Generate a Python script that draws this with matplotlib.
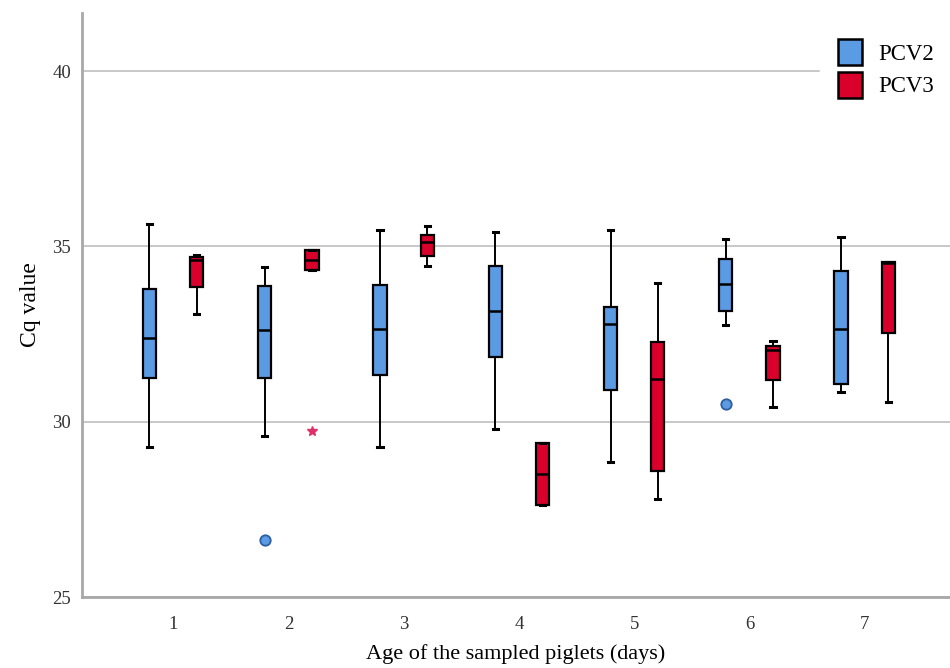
import matplotlib.pyplot as plt
from matplotlib.patches import Patch

# dados (Cq por idade)
days = [1, 2, 3, 4, 5, 6, 7]

pcv2_whislo = [29.27, 29.58, 29.29, 29.78, 28.84, 32.76, 30.84]
pcv2_q1 = [31.24, 31.26, 31.34, 31.85, 30.91, 33.15, 31.08]
pcv2_med = [32.39, 32.62, 32.65, 33.17, 32.79, 33.93, 32.65]
pcv2_q3 = [33.79, 33.87, 33.89, 34.44, 33.27, 34.65, 34.31]
pcv2_whishi = [35.64, 34.40, 35.47, 35.41, 35.46, 35.22, 35.27]
pcv2_fliers = [[], [26.62], [], [], [], [30.51], []]

pcv3_whislo = [33.06, 34.32, 34.43, 27.63, 27.79, 30.43, 30.57]
pcv3_q1 = [33.84, 34.32, 34.74, 27.63, 28.60, 31.20, 32.53]
pcv3_med = [34.60, 34.62, 35.12, 28.50, 31.22, 32.05, 34.52]
pcv3_q3 = [34.71, 34.91, 35.34, 29.38, 32.27, 32.16, 34.55]
pcv3_whishi = [34.75, 34.91, 35.58, 29.38, 33.95, 32.30, 34.55]
pcv3_fliers = [[], [29.74], [], [], [], [], []]

blue = "#5B9BE3"
red = "#D9002C"

plt.rcParams['font.family'] = ['Liberation Serif', 'DejaVu Serif']

fig = plt.figure(figsize=(9.5, 6.68), dpi=100)
ax = fig.add_axes([82 / 950, 1 - 597 / 668, 1 - 82 / 950, (597 - 13) / 668])


def stats(lo, q1, med, q3, hi, fl):
    return [dict(whislo=a, q1=b, med=c, q3=d, whishi=e, fliers=f)
            for a, b, c, d, e, f in zip(lo, q1, med, q3, hi, fl)]


def draw(st, pos, color, flier):
    ax.bxp(st, positions=pos, widths=0.115, patch_artist=True,
           capwidths=0.045,
           boxprops=dict(facecolor=color, edgecolor="black", linewidth=1.6),
           medianprops=dict(color="black", linewidth=1.8),
           whiskerprops=dict(color="black", linewidth=1.4),
           capprops=dict(color="black", linewidth=2.2),
           flierprops=flier, manage_ticks=False, zorder=3)


draw(stats(pcv2_whislo, pcv2_q1, pcv2_med, pcv2_q3, pcv2_whishi, pcv2_fliers),
     [d - 0.205 for d in days], blue,
     dict(marker="o", markersize=7.5, markerfacecolor=blue,
          markeredgecolor="#2E5E9E", markeredgewidth=1.3, linestyle="none"))
draw(stats(pcv3_whislo, pcv3_q1, pcv3_med, pcv3_q3, pcv3_whishi, pcv3_fliers),
     [d + 0.205 for d in days], red,
     dict(marker="*", markersize=7, markerfacecolor="#E0306A",
          markeredgecolor="#E0306A", linestyle="none"))

ax.set_xlim(0.21, 7.74)
ax.set_ylim(25, 41.66)
ax.set_yticks([25, 30, 35, 40])
ax.set_xticks(days)
ax.yaxis.grid(True, color="#C8C8C8", linewidth=1.4, zorder=0)
ax.set_axisbelow(True)
ax.tick_params(length=0, labelsize=13.5, colors="#333333")
ax.tick_params(axis="x", pad=14)
ax.tick_params(axis="y", pad=8)

for s in ["top", "right"]:
    ax.spines[s].set_visible(False)
for s in ["left", "bottom"]:
    ax.spines[s].set_color("#A8A8A8")
    ax.spines[s].set_linewidth(2)

ax.set_ylabel("Cq value", fontsize=17, labelpad=8)
ax.set_xlabel("Age of the sampled piglets (days)", fontsize=16, labelpad=8)

handles = [Patch(facecolor=blue, edgecolor="black", linewidth=1.8, label="PCV2"),
           Patch(facecolor=red, edgecolor="black", linewidth=1.8, label="PCV3")]
leg = ax.legend(handles=handles, loc="upper right", bbox_to_anchor=(1.016, 1.006),
                frameon=True, fontsize=16.5, handlelength=1.05, handleheight=1.35,
                handletextpad=0.7, labelspacing=0.3, borderpad=0.8)
leg.get_frame().set_edgecolor("white")
leg.get_frame().set_facecolor("white")
leg.get_frame().set_alpha(1)

fig.savefig("out.png", dpi=100)
